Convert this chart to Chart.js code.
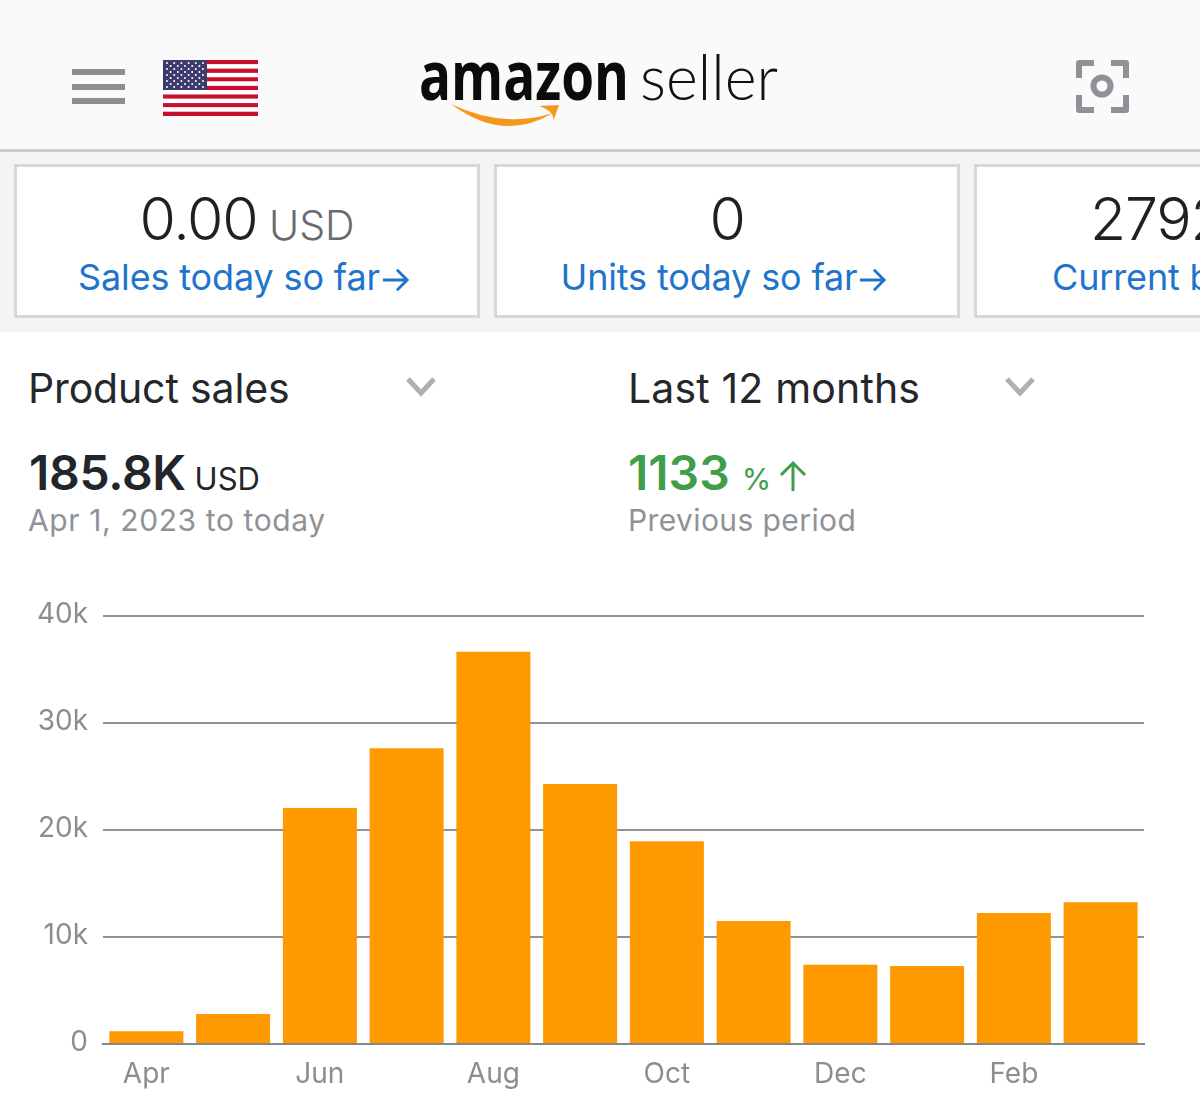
<!DOCTYPE html>
<html>
<head>
<meta charset="utf-8">
<title>Amazon Seller</title>
<script src="https://cdn.jsdelivr.net/npm/chart.js@4"></script>
<style>
    html, body { margin: 0; padding: 0; background: #fff; }
    body { width: 1200px; height: 1117px; position: relative; overflow: hidden; font-family: Inter, "Noto Sans", sans-serif; }
    .abs { position: absolute; white-space: nowrap; line-height: 1; }
    #header { position: absolute; left: 0; top: 0; width: 1200px; height: 149px; background: #fafafb; border-bottom: 3px solid #cbcdcf; }
    #strip { position: absolute; left: 0; top: 152px; width: 1200px; height: 180px; background: #f3f4f6; }
    .card { position: absolute; top: 164px; height: 148px; width: 460px; background: #fff; border: 3px solid #d5d7da; text-align: center; }
    .big { position: absolute; left: 0; right: 0; top: 22px; font-size: 59px; font-weight: 300; color: #1d2126; letter-spacing: -1.2px; word-spacing: -4px; line-height: 1; white-space: nowrap; }
    .big small { font-size: 41px; font-weight: 300; color: #676b70; letter-spacing: 0; }
    .link { position: absolute; left: 0; right: 4px; top: 92px; font-size: 36px; font-weight: 400; color: #1f75cb; letter-spacing: -.15px; line-height: 1; white-space: nowrap; }
    .link svg { vertical-align: -3px; margin-left: 2px; }
    #chartBox { position: absolute; left: 0; top: 590px; width: 1200px; height: 527px; }
</style>
</head>
<body>
<div id="header"></div>
<div id="strip"></div>

<!-- menu, flag, logo, scan icon -->
<svg class="abs" style="left:0;top:0" width="1200" height="150">
    <g fill="#8b8f94">
        <rect x="72" y="69" width="53" height="6"/>
        <rect x="72" y="84" width="53" height="6"/>
        <rect x="72" y="98" width="53" height="6"/>
    </g>
    <g id="flag"></g>
    <text x="419" y="100" font-family="'Open Sans'" font-weight="700" font-size="68" fill="#0b0b0b" textLength="210" lengthAdjust="spacingAndGlyphs">amazon</text>
    <text x="640" y="100" font-family="Lato" font-weight="300" font-size="64" fill="#111" textLength="138" lengthAdjust="spacingAndGlyphs">seller</text>
    <path d="M451 104 Q503 143 553 113 Q503 129 451 104 Z" fill="#f39a1e"/>
    <path d="M539 106 L559 105 L553 122 Q556 112 539 106 Z" fill="#f39a1e"/>
    <g fill="none" stroke="#8e9196" stroke-width="6" stroke-linejoin="round">
        <path d="M1079 78 V63 H1094"/>
        <path d="M1111 63 H1126 V78"/>
        <path d="M1126 95 V110 H1111"/>
        <path d="M1094 110 H1079 V95"/>
        <circle cx="1102" cy="86" r="8.5"/>
    </g>
</svg>

<div class="card" style="left:14px">
    <div class="big">0.00 <small>USD</small></div>
    <div class="link" style="right:6px">Sales today so far<svg width="28" height="26" viewBox="0 0 30 26" fill="none" stroke="#1f75cb" stroke-width="3"><path d="M1 13 H27 M16 2 L27 13 L16 24"/></svg></div>
</div>
<div class="card" style="left:494px">
    <div class="big">0</div>
    <div class="link" style="right:6px">Units today so far<svg width="28" height="26" viewBox="0 0 30 26" fill="none" stroke="#1f75cb" stroke-width="3"><path d="M1 13 H27 M16 2 L27 13 L16 24"/></svg></div>
</div>
<div class="card" style="left:974px;width:460px">
    <div class="big" style="text-align:left;left:113px">2792</div>
    <div class="link" style="text-align:left;left:75px">Current balance</div>
</div>

<!-- selectors and totals -->
<div class="abs" style="left:28px;top:368px;font-size:41px;color:#24272b;letter-spacing:-.15px">Product sales</div>
<div class="abs" style="left:628px;top:368px;font-size:41px;color:#24272b;letter-spacing:.15px">Last 12 months</div>
<svg class="abs" style="left:0;top:370px" width="1200" height="34">
    <g fill="none" stroke="#adb0b4" stroke-width="5">
        <path d="M408 9 L421 23 L434 9"/>
        <path d="M1007 9 L1020 23 L1033 9"/>
    </g>
</svg>
<div class="abs" style="left:29px;top:449px;font-size:48px;font-weight:600;color:#22262b;letter-spacing:-.3px;word-spacing:-3px">185.8K <span style="font-size:31px;font-weight:400;letter-spacing:0">USD</span></div>
<div class="abs" style="left:628px;top:449px;font-size:48px;font-weight:600;color:#3f9e4a">1133 <span style="font-size:30px;font-weight:400">%</span></div>
<svg class="abs" style="left:776px;top:460px" width="34" height="34" fill="none" stroke="#3f9e4a" stroke-width="3"><path d="M17 31 V3 M5 15 L17 3 L29 15"/></svg>
<div class="abs" style="left:28px;top:505px;font-size:30px;color:#909296;letter-spacing:.6px">Apr 1, 2023 to today</div>
<div class="abs" style="left:628px;top:505px;font-size:30px;color:#909296;letter-spacing:.4px">Previous period</div>

<div id="chartBox"><canvas id="salesChart"></canvas></div>

<script>
// 1. Data
const months = ["Apr", "May", "Jun", "Jul", "Aug", "Sep", "Oct", "Nov", "Dec", "Jan", "Feb", "Mar"];
const productSales = [1200, 2800, 22050, 27650, 36650, 24300, 18950, 11500, 7400, 7300, 12250, 13250];
const axisMax = 40000;
const axisStep = 10000;

// 2. Flag in the header
function drawFlag() {
    const flag = document.getElementById("flag");
    let out = "";
    for (let i = 0; i < 13; i++) {
        out += `<rect x="163" y="${60 + i * 56 / 13}" width="95" height="${56 / 13}" fill="${i % 2 ? "#fff" : "#c8102e"}"/>`;
    }
    out += `<rect x="163" y="60" width="44" height="30" fill="#3c3b6e"/>`;
    for (let r = 0; r < 9; r++) {
        for (let c = 0; c < (r % 2 ? 5 : 6); c++) {
            out += `<circle cx="${167 + c * 7.2 + (r % 2 ? 3.6 : 0)}" cy="${63 + r * 3}" r="1" fill="#fff"/>`;
        }
    }
    flag.innerHTML = out;
}
drawFlag();

// 3. Y labels sit a little above their grid lines in the app
function raiseLabels(scale) {
    if (scale.labelsRaised) return;
    scale.labelsRaised = true;
    const compute = scale._computeLabelItems;
    scale._computeLabelItems = function (area) {
        const items = compute.call(this, area);
        items.forEach(item => { item.textOffset -= 1; });
        return items;
    };
}

// 4. Chart
const gray = "#8a8d91";
new Chart(document.getElementById("salesChart"), {
    type: "bar",
    data: {
        labels: months,
        datasets: [{
            label: "Product sales",
            data: productSales,
            backgroundColor: "#ff9900",
            barPercentage: 0.853,
            categoryPercentage: 1
        }]
    },
    options: {
        responsive: true,
        maintainAspectRatio: false,
        animation: false,
        layout: { autoPadding: false, padding: { top: 26, right: 56, left: 0, bottom: 0 } },
        plugins: { legend: { display: false }, tooltip: { enabled: false } },
        scales: {
            x: {
                afterFit: scale => { scale.height = 73; },
                grid: { display: false },
                border: { color: "#84878b", width: 2 },
                ticks: {
                    autoSkip: false,
                    maxRotation: 0,
                    padding: 6,
                    color: gray,
                    font: { family: "Inter", size: 28 },
                    callback: (v, i) => (i % 2 === 0 ? months[i] : "")
                }
            },
            y: {
                min: 0,
                max: axisMax,
                afterFit: scale => {
                    scale.width = 103;
                    // tick padding would otherwise push the top of the plot down
                    scale.paddingTop = 0;
                    scale.paddingBottom = 0;
                    raiseLabels(scale);
                },
                grid: { color: "#909396", lineWidth: 2, drawTicks: false },
                border: { display: false },
                ticks: {
                    stepSize: axisStep,
                    padding: 15,
                    color: gray,
                    font: { family: "Inter", size: 28 },
                    callback: v => (v === 0 ? "0" : v / 1000 + "k")
                }
            }
        }
    }
});
</script>
</body>
</html>
